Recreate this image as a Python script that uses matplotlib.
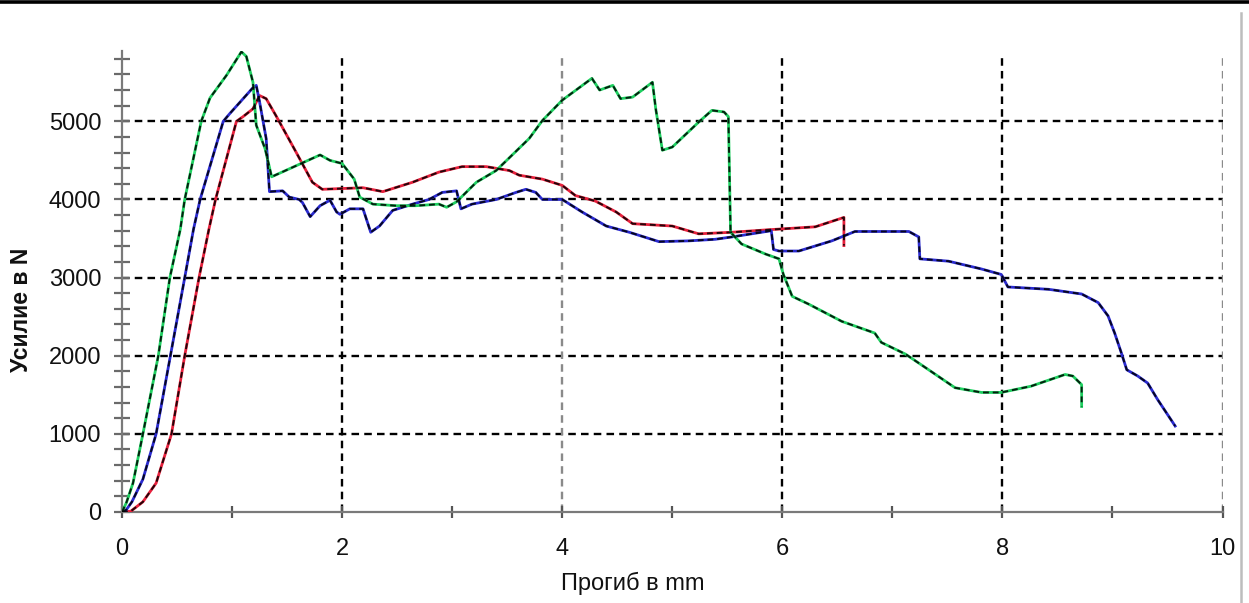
import matplotlib
matplotlib.use("Agg")
import matplotlib.pyplot as plt
from matplotlib.lines import Line2D
from matplotlib.ticker import MultipleLocator

# ---- data ----
green_x = [0, 0.04, 0.10, 0.19, 0.33, 0.435, 0.53, 0.57, 0.72, 0.80, 0.95, 1.085, 1.13, 1.19, 1.22,
           1.30, 1.36, 1.58, 1.80, 1.89, 2.0, 2.11, 2.16, 2.28, 2.49, 2.67, 2.88, 2.95, 3.04, 3.22,
           3.40, 3.70, 3.82, 4.0, 4.27, 4.34, 4.46, 4.53, 4.64, 4.82, 4.85, 4.91, 5.0, 5.24, 5.36,
           5.47, 5.51, 5.53, 5.63, 5.85, 5.97, 6.01, 6.09, 6.24, 6.54, 6.84, 6.90, 7.12, 7.33, 7.57,
           7.81, 7.99, 8.26, 8.57, 8.64, 8.72, 8.72]
green_y = [0, 120, 370, 1000, 2000, 3000, 3620, 4000, 5000, 5300, 5590, 5890, 5830, 5500, 4950,
           4650, 4290, 4430, 4570, 4500, 4460, 4260, 4030, 3940, 3920, 3920, 3940, 3900, 3970, 4220,
           4370, 4780, 5010, 5270, 5550, 5400, 5460, 5290, 5310, 5500, 5160, 4630, 4670, 4990, 5140,
           5120, 5060, 3580, 3430, 3300, 3240, 3040, 2760, 2660, 2440, 2290, 2170, 2020, 1820, 1590,
           1530, 1530, 1610, 1760, 1740, 1630, 1350]

blue_x = [0, 0.04, 0.09, 0.19, 0.31, 0.44, 0.57, 0.65, 0.71, 0.92, 0.98, 1.19, 1.22, 1.25, 1.31,
          1.34, 1.46, 1.52, 1.61, 1.64, 1.71, 1.80, 1.89, 1.95, 1.98, 2.07, 2.19, 2.26, 2.34, 2.46,
          2.64, 2.79, 2.91, 3.04, 3.08, 3.18, 3.40, 3.58, 3.67, 3.76, 3.82, 4.0, 4.18, 4.40, 4.61,
          4.88, 5.15, 5.39, 5.54, 5.90, 5.92, 5.97, 6.15, 6.45, 6.66, 7.15, 7.24, 7.25, 7.51, 7.81,
          7.99, 8.05, 8.42, 8.72, 8.87, 8.96, 9.02, 9.08, 9.13, 9.23, 9.32, 9.41, 9.57]
blue_y = [0, 30, 130, 420, 1000, 2000, 3000, 3620, 4000, 5000, 5100, 5430, 5460, 5250, 4780,
          4100, 4110, 4030, 4000, 3960, 3780, 3920, 3990, 3840, 3810, 3880, 3880, 3580, 3660, 3860,
          3940, 4000, 4090, 4110, 3880, 3940, 4000, 4090, 4130, 4090, 4000, 4000, 3840, 3660, 3580,
          3460, 3470, 3490, 3520, 3600, 3360, 3340, 3340, 3470, 3590, 3590, 3520, 3240, 3210, 3110,
          3040, 2880, 2850, 2790, 2680, 2510, 2290, 2040, 1820, 1740, 1650, 1440, 1100]

red_x = [0, 0.08, 0.19, 0.31, 0.45, 0.57, 0.70, 0.79, 0.85, 1.04, 1.10, 1.19, 1.25, 1.31, 1.40,
         1.58, 1.73, 1.82, 2.19, 2.37, 2.64, 2.88, 3.09, 3.31, 3.52, 3.61, 3.82, 4.0, 4.12, 4.30,
         4.49, 4.64, 5.0, 5.24, 5.54, 5.85, 6.30, 6.56, 6.56]
red_y = [0, 10, 130, 370, 1000, 2000, 3000, 3620, 4000, 5000, 5060, 5160, 5330, 5290, 5070,
         4610, 4220, 4130, 4150, 4100, 4220, 4350, 4420, 4420, 4370, 4310, 4260, 4180, 4050, 3980,
         3840, 3690, 3660, 3560, 3580, 3610, 3650, 3770, 3410]

x_ticks = [0, 2, 4, 6, 8, 10]
y_ticks = [0, 1000, 2000, 3000, 4000, 5000]
x_label = "Прогиб в mm"
y_label = "Усилие в N"

# ---- figure ----
W, H = 1249, 603
fig = plt.figure(figsize=(W / 100, H / 100), dpi=100)
fig.patch.set_facecolor("white")
plt.rcParams["font.family"] = ["Liberation Sans", "DejaVu Sans"]

left, right, bottom, top = 122 / W, 1222.5 / W, 1 - 512 / H, 1 - 51 / H
ax = fig.add_axes([left, bottom, right - left, top - bottom])
ax.set_xlim(0, 10)
ax.set_ylim(0, 5900)

# grid
for yv in y_ticks[1:]:
    ax.axhline(yv, color="black", lw=1.7, dashes=(3.2, 2.2), zorder=1)
for xv in x_ticks[1:]:
    col = "#8a8a8a" if xv in (4, 10) else "black"
    ax.axvline(xv, color=col, lw=1.7, dashes=(3.2, 2.2), zorder=1,
               ymax=5870 / 5900)

# curves: coloured line with black dashed overlay (as in the scan)
for xs, ys, c in [(red_x, red_y, "#e8203c"), (blue_x, blue_y, "#2a2ad0"),
                  (green_x, green_y, "#1ed060")]:
    ax.plot(xs, ys, color=c, lw=2.0, zorder=3, solid_joinstyle="round")
    ax.plot(xs, ys, color="black", lw=1.4, dashes=(3, 2), zorder=4, alpha=0.85)

# spines
for s in ("top", "right"):
    ax.spines[s].set_visible(False)
for s in ("left", "bottom"):
    ax.spines[s].set_color("#7a7a7a")
    ax.spines[s].set_linewidth(1.6)

ax.set_xticks(x_ticks)
ax.set_yticks(y_ticks)
ax.xaxis.set_minor_locator(MultipleLocator(1))
ax.yaxis.set_minor_locator(MultipleLocator(200))
ax.tick_params(axis="y", which="both", direction="inout", length=12, width=1.6,
               color="#6a6a6a", labelsize=17, pad=9)
ax.tick_params(axis="x", which="both", direction="inout", length=9, width=1.6,
               color="#555555", labelsize=17, pad=14)
for lab in ax.get_xticklabels() + ax.get_yticklabels():
    lab.set_color("#111111")

fig.text(633 / W, 1 - 583 / H, x_label, ha="center", va="center", fontsize=17,
         color="#111111")
fig.text(22 / W, 1 - 310 / H, y_label, ha="center", va="center", fontsize=16.5,
         rotation=90, color="#111111", fontweight="bold")

# frame artefacts of the screenshot
fig.add_artist(Line2D([0, 1], [1 - 1.5 / H, 1 - 1.5 / H], color="black", lw=2.6,
                      transform=fig.transFigure))
fig.add_artist(Line2D([1241 / W, 1241 / W], [0, 1 - 13 / H], color="#bdbdbd", lw=1.8,
                      transform=fig.transFigure))

fig.savefig("out.png", dpi=100, facecolor="white")
